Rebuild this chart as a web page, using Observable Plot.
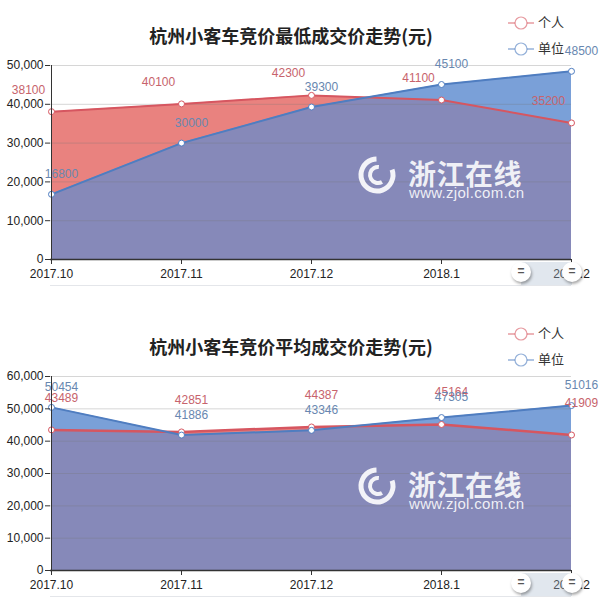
<!DOCTYPE html>
<html>
<head>
<meta charset="utf-8">
<script src="https://cdn.jsdelivr.net/npm/d3@7"></script>
<script src="https://cdn.jsdelivr.net/npm/@observablehq/plot@0.6"></script>
<style>
  html, body { margin: 0; padding: 0; background: #fff; }
  #page { position: relative; width: 600px; height: 612px; overflow: hidden; }
  .chart { position: absolute; left: 0; width: 600px; height: 300px; }
  .title { position: absolute; left: 0; top: 22px; width: 582px; text-align: center;
           font: bold 18px "Noto Sans CJK SC", sans-serif; color: #222; line-height: 26px; }
  .legend { position: absolute; left: 508px; font: 13px "Noto Sans CJK SC", sans-serif; color: #333; line-height: 16px; }
  .legend svg { vertical-align: middle; margin-right: 4px; }
  .wm { position: absolute; left: 356px; top: 153px; width: 180px; height: 50px; color: rgba(255,255,255,0.88); pointer-events: none; }
  .wm .big { position: absolute; left: 52px; top: 4px; font: bold 28px "Noto Sans CJK SC", sans-serif; line-height: 32px; letter-spacing: 0.5px; }
  .wm .url { position: absolute; left: 53px; top: 32px; font: 15px "Liberation Sans", Arial, sans-serif; line-height: 16px; letter-spacing: 0.3px; }
  .wm svg { position: absolute; left: 0; top: 2px; }
  .band { position: absolute; left: 50px; width: 521px; top: 262px; height: 23px; border-bottom: 1px solid #e4e6ea; }
  .sel { position: absolute; left: 521px; width: 51px; top: 262px; height: 23px; background: rgba(170,185,205,0.35); }
  .handle { position: absolute; width: 20px; height: 20px; border-radius: 50%; background: #fff;
            box-shadow: 1px 2px 3px rgba(0,0,0,0.35); top: 262px; font: bold 12px "Liberation Sans", Arial, sans-serif;
            color: #555; text-align: center; line-height: 19px; }
</style>
</head>
<body>
<div id="page"></div>
<script>
// ---------- data ----------
const months = ["2017.10", "2017.11", "2017.12", "2018.1", "2018.2"];
const minPersonal = [38100, 40100, 42300, 41100, 35200];
const minUnit = [16800, 30000, 39300, 45100, 48500];
const avgPersonal = [43489, 42851, 44387, 45164, 41909];
const avgUnit = [50454, 41886, 43346, 47305, 51016];
const seriesNames = ["个人", "单位"];
const titles = ["杭州小客车竞价最低成交价走势(元)", "杭州小客车竞价平均成交价走势(元)"];
const yMaxes = [50000, 60000];

// ---------- styles ----------
const RED_FILL = "#e9827f";
const BLUE_FILL = "#7aa0d8";
const OVER_FILL = "#8689b9";
const RED_LINE = "#d65660";
const BLUE_LINE = "#4f7dc0";
const RED_TEXT = "#c7636c";
const BLUE_TEXT = "#6887b0";

const page = document.getElementById("page");

function makeChart(idx, top, personal, unit, opt) {
  const yMax = yMaxes[idx];
  const data = months.map((m, i) => ({m, p: personal[i], u: unit[i]}));
  const wrap = document.createElement("div");
  wrap.className = "chart";
  wrap.style.top = top + "px";
  page.appendChild(wrap);

  const svg = Plot.plot({
    width: 600, height: 300,
    marginLeft: 50, marginRight: 29, marginTop: 65, marginBottom: 41,
    style: {fontFamily: '"Liberation Sans", Arial, sans-serif', fontSize: "12px", color: "#333", background: "transparent", overflow: "visible"},
    x: {type: "point", domain: months, padding: 0, label: null},
    y: {domain: [0, yMax], label: null},
    marks: [
      Plot.areaY(data, {x: "m", y: "p", fill: RED_FILL}),
      Plot.areaY(data, {x: "m", y: "u", fill: BLUE_FILL}),
      Plot.areaY(data, {x: "m", y: "u", fill: OVER_FILL}),
      Plot.ruleY(d3.range(10000, yMax + 1, 10000), {stroke: "#777", strokeOpacity: 0.3}),
      Plot.lineY(data, {x: "m", y: "p", stroke: RED_LINE, strokeWidth: opt.redWidth}),
      Plot.lineY(data, {x: "m", y: "u", stroke: BLUE_LINE, strokeWidth: 2}),
      Plot.dot(data, {x: "m", y: "p", r: 3, fill: "#fff", stroke: RED_LINE, strokeWidth: 1}),
      Plot.dot(data, {x: "m", y: "u", r: 3, fill: "#fff", stroke: BLUE_LINE, strokeWidth: 1}),
      Plot.text(data, {x: "m", y: "p", text: d => String(d.p), fill: RED_TEXT, dx: opt.redDx, dy: opt.redDy, fontSize: 12}),
      Plot.text(data, {x: "m", y: "u", text: d => String(d.u), fill: BLUE_TEXT, dx: opt.blueDx, dy: opt.blueDy, fontSize: 12}),
      Plot.ruleX([months[0]], {y1: 0, y2: yMax, stroke: "#333"}),
      Plot.ruleY([0], {stroke: "#333", strokeWidth: 1.5}),
      Plot.axisY({ticks: d3.range(0, yMax + 1, 10000), tickFormat: d3.format(","), tickSize: 5, tickPadding: 2, label: null, fill: "#222"}),
      Plot.axisX({tickSize: 5, tickPadding: 5, label: null, fill: "#222"})
    ]
  });
  wrap.appendChild(svg);

  // overlap: clip the third area by the first (personal) area shape
  const areas = svg.querySelectorAll('g[aria-label="area"]');
  if (areas.length >= 3) {
    const ns = "http://www.w3.org/2000/svg";
    const redPath = areas[0].querySelector("path");
    const defs = document.createElementNS(ns, "defs");
    const cp = document.createElementNS(ns, "clipPath");
    cp.setAttribute("id", "clipRed" + idx);
    const p = document.createElementNS(ns, "path");
    p.setAttribute("d", redPath.getAttribute("d"));
    cp.appendChild(p);
    defs.appendChild(cp);
    svg.insertBefore(defs, svg.firstChild);
    areas[2].querySelector("path").setAttribute("clip-path", `url(#clipRed${idx})`);
  }

  // title
  const t = document.createElement("div");
  t.className = "title";
  t.textContent = titles[idx];
  wrap.appendChild(t);

  // legend
  const cols = [RED_LINE, BLUE_LINE];
  seriesNames.forEach((name, i) => {
    const l = document.createElement("div");
    l.className = "legend";
    l.style.top = (14 + i * 26) + "px";
    l.innerHTML = `<svg width="26" height="14"><line x1="0" x2="26" y1="7" y2="7" stroke="${cols[i]}" stroke-opacity="0.6" stroke-width="1.5"/><circle cx="13" cy="7" r="6" fill="#fff" stroke="${cols[i]}" stroke-opacity="0.6" stroke-width="1.2"/></svg>${name}`;
    wrap.appendChild(l);
  });

  // watermark
  const wm = document.createElement("div");
  wm.className = "wm";
  wm.innerHTML = `<svg width="44" height="44" viewBox="0 0 44 44">
      <circle cx="21" cy="20" r="16" fill="none" stroke="rgba(255,255,255,0.9)" stroke-width="5" stroke-dasharray="80 20.5" transform="rotate(-20 21 20)"/>
      <circle cx="22" cy="20" r="8" fill="none" stroke="rgba(255,255,255,0.9)" stroke-width="4" stroke-dasharray="30 20" transform="rotate(60 22 20)"/>
    </svg><div class="big">浙江在线</div><div class="url">www.zjol.com.cn</div>`;
  wrap.appendChild(wm);

  // data-zoom slider decoration
  const band = document.createElement("div"); band.className = "band"; wrap.appendChild(band);
  const sel = document.createElement("div"); sel.className = "sel"; wrap.appendChild(sel);
  [511, 562].forEach(x => {
    const h = document.createElement("div");
    h.className = "handle"; h.style.left = x + "px"; h.textContent = "=";
    wrap.appendChild(h);
  });
}

makeChart(0, 0, minPersonal, minUnit, {redWidth: 2, redDx: -23, redDy: -22, blueDx: 10, blueDy: -20});
makeChart(1, 311, avgPersonal, avgUnit, {redWidth: 2.5, redDx: 10, redDy: -32, blueDx: 10, blueDy: -20});
</script>
</body>
</html>
